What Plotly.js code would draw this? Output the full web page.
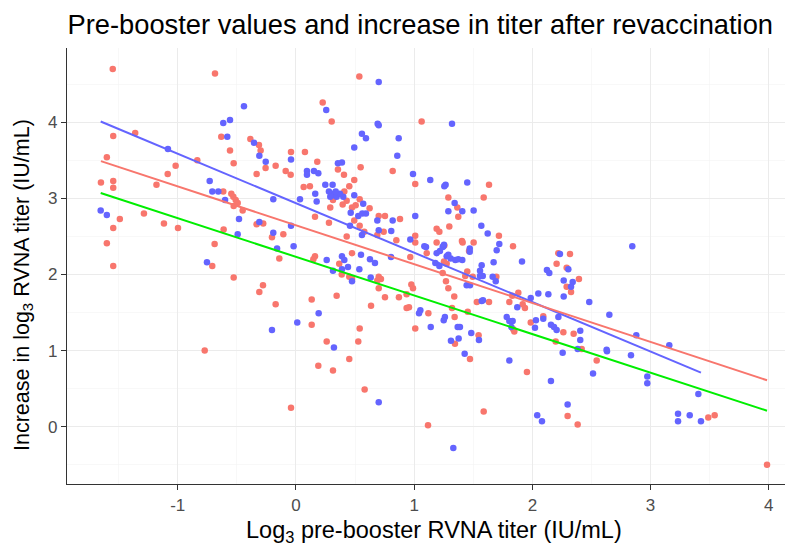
<!DOCTYPE html>
<html><head><meta charset="utf-8">
<script src="https://cdn.plot.ly/plotly-3.0.1.min.js"></script>
<style>body{margin:0;background:#fff}#chart{width:790px;height:547px}</style>
</head><body><div id="chart"></div>
<script>
var redX = [-1.55,-0.685,-1.36,-1.546,-1.60,-1.65,-1.546,-1.546,-1.49,-1.546,-1.60,-1.286,-1.117,-0.998,-1.18,-1.085,-1.018,-0.835,-0.632,-0.558,-0.527,-0.386,-0.313,-0.299,-0.333,-0.257,-0.172,-0.042,0.076,-0.087,-0.045,0.065,0.118,0.18,-0.615,-0.547,-0.530,-0.51,-0.493,-0.527,-0.451,-0.333,-0.277,-0.612,-0.688,-0.107,-0.203,0.161,-1.546,-0.708,-0.527,-0.279,-0.31,-0.172,-0.141,0.133,0.133,0.161,0.147,-0.772,-0.042,0.189,0.536,0.226,0.302,1.063,0.547,0.355,0.406,0.493,0.451,0.818,1.009,1.633,1.588,1.289,1.365,1.373,0.409,0.313,0.29,0.539,0.395,0.429,0.474,0.505,0.623,0.279,0.493,0.539,0.70,0.753,0.88,0.429,0.578,0.742,0.688,0.849,1.009,1.009,1.19,1.213,1.19,1.255,1.404,1.41,1.503,1.717,1.836,1.297,0.366,0.474,0.387,0.451,0.474,0.344,0.70,0.719,0.688,0.70,0.753,0.635,0.871,0.936,0.967,0.976,0.99,0.936,0.956,1.12,1.009,0.539,0.527,0.26,0.451,0.313,0.581,1.117,1.588,1.954,1.472,1.345,1.545,1.342,1.32,1.453,1.339,1.289,1.269,1.252,1.275,1.241,1.106,1.464,1.449,1.432,1.495,1.53,1.633,1.695,1.881,1.83,1.805,1.918,1.937,1.847,1.838,1.986,2.092,2.205,2.219,2.197,2.318,2.29,2.394,2.29,2.327,2.262,2.349,2.417,2.544,2.298,2.383,3.488,3.542,3.985];
var redY = [4.70,4.64,3.86,3.82,3.54,3.21,3.23,3.14,2.73,2.61,2.41,2.80,2.67,2.61,3.18,3.32,3.43,3.50,3.81,3.63,3.46,3.78,3.70,3.63,3.32,3.40,3.43,3.61,3.61,3.36,3.31,3.15,3.16,3.48,3.09,3.06,3.02,2.98,2.94,2.90,2.84,2.66,2.67,2.59,2.40,2.53,2.49,2.76,2.11,2.11,1.96,1.86,1.77,1.61,2.21,1.67,1.34,2.24,2.20,1.00,0.25,0.80,4.60,4.26,4.01,4.01,3.41,3.38,3.31,3.24,3.16,3.36,3.19,3.18,3.01,3.01,2.88,2.76,3.09,2.98,2.88,2.99,2.92,2.97,2.88,2.91,2.87,2.68,2.71,2.64,2.77,2.77,2.73,2.50,2.56,2.56,2.52,2.45,2.51,2.42,2.60,2.56,2.42,2.38,2.44,2.42,2.42,2.51,2.37,2.63,2.14,2.28,2.00,1.97,1.94,1.72,1.97,1.94,1.92,1.82,1.70,1.59,1.70,1.74,2.23,1.87,1.82,1.56,1.57,1.49,1.29,1.29,1.12,1.12,0.89,0.74,0.49,0.02,0.20,0.72,0.89,1.09,1.20,1.44,1.56,1.51,1.71,1.82,1.91,2.17,2.14,2.02,2.28,2.31,2.04,1.98,1.97,1.64,1.64,1.97,1.76,1.72,1.64,1.61,1.56,1.25,1.28,1.37,1.45,2.14,2.28,1.12,2.27,2.09,1.94,1.84,1.77,1.24,1.22,1.02,0.87,0.14,0.03,0.12,0.15,-0.50];

var blueX = [-0.44,-0.615,-0.558,-0.581,-1.083,-0.355,-0.31,-0.256,-0.042,0.093,0.093,0.152,0.189,-0.73,-0.708,-0.657,-0.60,-0.192,0.034,0.163,0.175,-0.482,-0.31,-0.042,-1.652,-1.60,-0.493,-0.192,-0.16,-0.02,-0.753,-0.203,0.011,0.192,0.70,0.256,0.691,0.70,1.32,0.558,0.592,0.869,0.493,0.857,0.355,0.389,0.99,1.136,1.266,1.255,1.449,0.248,0.31,0.279,0.302,0.324,0.344,0.29,0.40,0.372,0.336,0.493,0.569,0.463,0.527,0.561,0.592,0.688,0.70,0.818,0.806,1.009,1.342,1.289,1.407,1.503,1.568,1.622,0.967,1.086,1.247,1.72,1.47,0.558,0.457,0.26,0.389,0.409,0.389,0.44,0.55,0.536,0.313,0.474,0.626,0.668,0.632,0.804,0.321,0.70,1.052,1.041,1.14,1.10,1.19,1.218,1.241,1.252,1.275,1.289,1.309,1.348,1.373,1.407,1.47,1.179,1.213,1.26,1.25,1.368,1.387,1.376,1.311,1.483,1.548,1.427,1.331,1.571,1.557,1.58,1.557,1.672,1.698,1.664,1.69,1.571,1.582,1.444,1.472,1.783,1.805,1.833,1.822,1.912,1.872,1.986,1.805,2.022,2.03,2.05,2.135,2.123,2.143,2.157,2.183,2.205,2.157,2.041,2.081,2.22,2.845,2.233,2.304,2.265,2.341,2.327,2.265,2.481,2.651,2.092,2.405,2.405,2.879,3.158,2.628,2.383,2.256,2.631,2.834,2.513,2.972,2.972,3.404,2.298,3.232,3.232,3.331,3.426];
var blueY = [4.21,3.99,4.03,3.81,3.65,3.73,3.56,3.48,3.51,3.36,3.31,3.36,3.33,3.23,3.09,3.09,2.98,2.99,2.99,3.06,2.96,2.73,2.69,2.64,2.84,2.78,2.53,2.55,2.34,2.37,2.16,1.27,1.37,1.49,4.53,4.16,3.98,3.96,3.98,3.85,3.79,3.79,3.67,3.56,3.46,3.47,3.32,3.24,3.18,3.16,3.21,3.18,3.18,3.09,3.06,3.04,3.02,3.02,3.02,3.06,3.09,3.04,2.93,2.81,2.77,2.80,2.80,2.71,2.58,2.71,2.57,2.77,2.94,2.83,2.83,2.84,2.64,2.54,2.46,2.37,2.37,2.40,2.34,2.52,2.64,2.19,2.24,2.19,2.07,2.10,2.26,2.07,2.05,1.91,2.20,2.15,1.96,2.23,1.04,0.32,1.53,1.49,1.31,2.36,2.28,2.31,2.36,2.39,2.24,2.26,2.21,2.19,2.20,2.19,2.30,2.15,2.11,1.44,1.40,1.31,1.31,1.16,1.13,1.23,1.14,0.96,-0.28,2.12,2.05,1.98,1.98,2.16,2.32,1.97,1.91,1.65,1.66,1.86,1.86,1.44,1.39,1.39,1.31,2.17,1.57,1.69,0.87,1.30,1.40,1.75,1.74,2.06,2.02,1.34,1.31,1.27,0.60,0.15,0.07,1.44,2.37,2.27,2.07,1.92,1.90,1.84,1.71,1.64,1.47,1.42,1.26,1.14,1.20,1.07,1.01,1.02,0.97,0.99,0.94,0.70,0.66,0.57,0.43,0.29,0.17,0.07,0.15,0.07];

// fitted lines (endpoints)
var blueFitX = [-1.652, 3.426], blueFitY = [4.01, 0.71];
var redFitX = [-1.65, 3.985], redFitY = [3.49, 0.61];
var allFitX = [-1.652, 3.985], allFitY = [3.07, 0.21];

var xTicks = [-1, 0, 1, 2, 3, 4];
var yTicks = [0, 1, 2, 3, 4];
var xMinor = [-1.5, -0.5, 0.5, 1.5, 2.5, 3.5];
var yMinor = [-0.5, 0.5, 1.5, 2.5, 3.5, 4.5];

var RED = '#F8766D', BLUE = '#6464FF', GREEN = '#00EE00';
var traces = [
  {x: redX, y: redY, type: 'scatter', mode: 'markers', marker: {color: RED, size: 6.5}, hoverinfo: 'x+y'},
  {x: blueX, y: blueY, type: 'scatter', mode: 'markers', marker: {color: BLUE, size: 6.5}, hoverinfo: 'x+y'},
  {x: blueFitX, y: blueFitY, type: 'scatter', mode: 'lines', line: {color: BLUE, width: 2}},
  {x: redFitX, y: redFitY, type: 'scatter', mode: 'lines', line: {color: RED, width: 2}},
  {x: allFitX, y: allFitY, type: 'scatter', mode: 'lines', line: {color: GREEN, width: 2}}
];
var font = 'Liberation Sans, Arial, sans-serif';
var axisCommon = {
  zeroline: false,
  showline: true, linecolor: '#333', linewidth: 1.2, ticks: 'outside', ticklen: 5, tickcolor: '#333',
  tickfont: {size: 17, color: '#4d4d4d'}, gridcolor: '#ebebeb', gridwidth: 1
};
var layout = {
  width: 790, height: 547,
  margin: {l: 67, r: 5, t: 48, b: 63},
  showlegend: false,
  paper_bgcolor: '#fff', plot_bgcolor: '#fff',
  font: {family: font, color: '#000'},
  title: {text: 'Pre-booster values and increase in titer after revaccination', font: {size: 27.3, color: '#000'},
          x: 0.532, xanchor: 'center', xref: 'container', y: 0.956, yref: 'container', yanchor: 'middle'},
  xaxis: Object.assign({}, axisCommon, {range: [-1.937, 4.137], tickvals: xTicks, ticktext: xTicks.map(String),
          minor: {tickmode: 'array', tickvals: xMinor, showgrid: true, gridcolor: '#f3f3f3', gridwidth: 0.6, ticks: ''}}),
  yaxis: Object.assign({}, axisCommon, {range: [-0.753, 4.976], tickvals: yTicks, ticktext: yTicks.map(String),
          minor: {tickmode: 'array', tickvals: yMinor, showgrid: true, gridcolor: '#f3f3f3', gridwidth: 0.6, ticks: ''}}),
  annotations: [
    {text: 'Log<sub>3</sub> pre-booster RVNA titer (IU/mL)', xref: 'paper', yref: 'paper', x: 0.5118, y: -0.1078,
     xanchor: 'center', yanchor: 'middle', showarrow: false, font: {size: 23.5, color: '#000'}},
    {text: 'Increase in log<sub>3</sub> RVNA titer (IU/mL)', xref: 'paper', yref: 'paper', x: -0.0613, y: 0.4564,
     xanchor: 'center', yanchor: 'middle', textangle: -90, showarrow: false, font: {size: 21.5, color: '#000'}}
  ]
};
Plotly.newPlot('chart', traces, layout, {displayModeBar: false, staticPlot: true});
</script></body></html>
